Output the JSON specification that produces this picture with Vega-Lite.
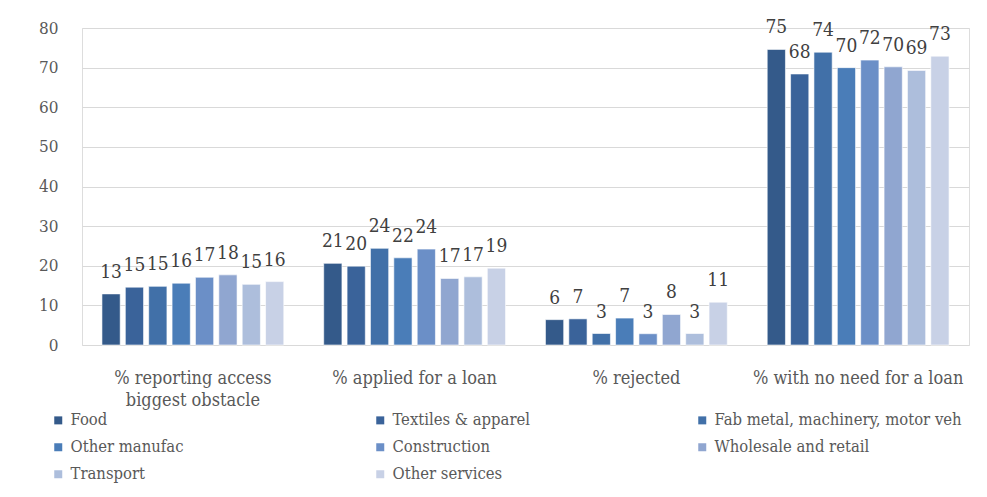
{
  "$schema": "https://vega.github.io/schema/vega-lite/v6.json",
  "width": 887,
  "height": 317,
  "autosize": {"type": "none"},
  "padding": {"left": 82, "top": 28, "right": 18, "bottom": 152},
  "background": "white",
  "config": {"font": "DejaVu Serif Condensed"},
  "data": {
    "values": [
      {"cat": "% reporting access biggest obstacle", "sector": "Food", "v": 12.9},
      {"cat": "% reporting access biggest obstacle", "sector": "Textiles & apparel", "v": 14.6},
      {"cat": "% reporting access biggest obstacle", "sector": "Fab metal, machinery, motor veh", "v": 14.8},
      {"cat": "% reporting access biggest obstacle", "sector": "Other manufac", "v": 15.6},
      {"cat": "% reporting access biggest obstacle", "sector": "Construction", "v": 17.1},
      {"cat": "% reporting access biggest obstacle", "sector": "Wholesale and retail", "v": 17.7},
      {"cat": "% reporting access biggest obstacle", "sector": "Transport", "v": 15.3},
      {"cat": "% reporting access biggest obstacle", "sector": "Other services", "v": 16.0},
      {"cat": "% applied for a loan", "sector": "Food", "v": 20.6},
      {"cat": "% applied for a loan", "sector": "Textiles & apparel", "v": 19.9},
      {"cat": "% applied for a loan", "sector": "Fab metal, machinery, motor veh", "v": 24.4},
      {"cat": "% applied for a loan", "sector": "Other manufac", "v": 22.0},
      {"cat": "% applied for a loan", "sector": "Construction", "v": 24.2},
      {"cat": "% applied for a loan", "sector": "Wholesale and retail", "v": 16.8},
      {"cat": "% applied for a loan", "sector": "Transport", "v": 17.2},
      {"cat": "% applied for a loan", "sector": "Other services", "v": 19.4},
      {"cat": "% rejected", "sector": "Food", "v": 6.4},
      {"cat": "% rejected", "sector": "Textiles & apparel", "v": 6.6},
      {"cat": "% rejected", "sector": "Fab metal, machinery, motor veh", "v": 2.9},
      {"cat": "% rejected", "sector": "Other manufac", "v": 6.8},
      {"cat": "% rejected", "sector": "Construction", "v": 2.85},
      {"cat": "% rejected", "sector": "Wholesale and retail", "v": 7.7},
      {"cat": "% rejected", "sector": "Transport", "v": 2.9},
      {"cat": "% rejected", "sector": "Other services", "v": 10.8},
      {"cat": "% with no need for a loan", "sector": "Food", "v": 74.6},
      {"cat": "% with no need for a loan", "sector": "Textiles & apparel", "v": 68.4},
      {"cat": "% with no need for a loan", "sector": "Fab metal, machinery, motor veh", "v": 73.9},
      {"cat": "% with no need for a loan", "sector": "Other manufac", "v": 70.0},
      {"cat": "% with no need for a loan", "sector": "Construction", "v": 71.9},
      {"cat": "% with no need for a loan", "sector": "Wholesale and retail", "v": 70.2},
      {"cat": "% with no need for a loan", "sector": "Transport", "v": 69.3},
      {"cat": "% with no need for a loan", "sector": "Other services", "v": 72.9}
    ]
  },
  "encoding": {
    "x": {
      "field": "cat",
      "type": "nominal",
      "sort": null,
      "title": null,
      "scale": {"paddingInner": 0.18, "paddingOuter": 0.09},
      "axis": {
        "labelAngle": 0,
        "labelFont": "DejaVu Serif Condensed",
        "labelFontSize": 18,
        "labelColor": "#595959",
        "labelPadding": 24,
        "labelLineHeight": 22.5,
        "labelLimit": 300,
        "labelExpr": "datum.label == '% reporting access biggest obstacle' ? ['% reporting access', 'biggest obstacle'] : datum.label",
        "ticks": false,
        "domain": false,
        "grid": false
      }
    },
    "xOffset": {
      "field": "sector",
      "type": "nominal",
      "sort": null,
      "scale": {"paddingInner": 0.22, "paddingOuter": 0}
    },
    "y": {
      "field": "v",
      "type": "quantitative",
      "title": null,
      "scale": {"domain": [0, 80]},
      "axis": {
        "values": [0, 10, 20, 30, 40, 50, 60, 70, 80],
        "labelFont": "DejaVu Serif Condensed",
        "labelFontSize": 17,
        "labelColor": "#595959",
        "labelPadding": 24,
        "ticks": false,
        "domain": false,
        "grid": true,
        "gridColor": "#D9D9D9",
        "gridWidth": 1
      }
    }
  },
  "layer": [
    {
      "mark": {"type": "bar", "stroke": "#ffffff", "strokeWidth": 0.6},
      "encoding": {
        "color": {
          "field": "sector",
          "type": "nominal",
          "sort": null,
          "scale": {
            "domain": ["Food", "Textiles & apparel", "Fab metal, machinery, motor veh", "Other manufac", "Construction", "Wholesale and retail", "Transport", "Other services"],
            "range": ["#345A8A", "#3A639A", "#4170A8", "#4A7DB8", "#6B8FC7", "#90A6D0", "#ADBEDC", "#C8D1E6"]
          },
          "legend": {
            "title": null,
            "orient": "none",
            "legendX": -32,
            "legendY": 384,
            "direction": "horizontal",
            "columns": 3,
            "gridAlign": "all",
            "columnPadding": 54,
            "rowPadding": 10,
            "symbolType": "square",
            "symbolSize": 64,
            "symbolStrokeWidth": 0,
            "symbolOffset": 0,
            "labelOffset": 4,
            "labelFont": "DejaVu Serif Condensed",
            "labelFontSize": 16.5,
            "labelColor": "#595959",
            "labelLimit": 400
          }
        }
      }
    },
    {
      "mark": {
        "type": "text",
        "baseline": "alphabetic",
        "dy": -16,
        "font": "DejaVu Serif Condensed",
        "fontSize": 19,
        "color": "#404040"
      },
      "encoding": {
        "text": {"field": "v", "type": "quantitative", "format": ".0f"}
      }
    }
  ]
}
